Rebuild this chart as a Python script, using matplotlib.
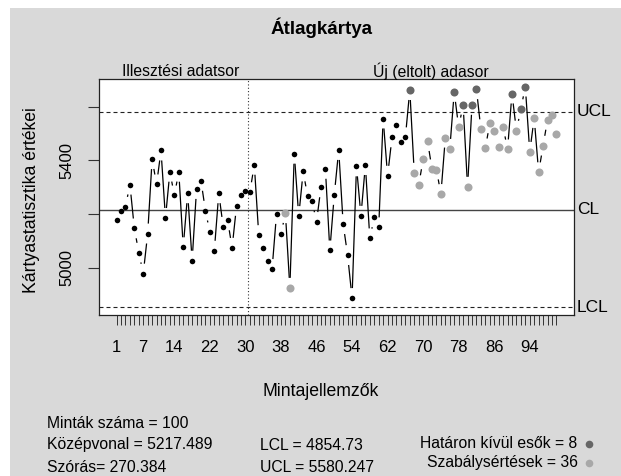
import numpy as np
import matplotlib
matplotlib.use("Agg")
import matplotlib.pyplot as plt
from matplotlib.patches import Rectangle

plt.rcParams['font.family'] = ['Liberation Sans', 'DejaVu Sans']

# sample means
samples = list(range(1, 101))
means = [5179, 5211, 5228, 5310, 5147, 5057, 4979, 5128, 5405, 5311,
         5437, 5186, 5358, 5270, 5358, 5077, 5278, 5027, 5294, 5324,
         5213, 5133, 5064, 5278, 5153, 5177, 5075, 5231, 5273, 5288,
         5282, 5384, 5122, 5075, 5026, 4996, 5201, 5125, 5204, 4926,
         5425, 5193, 5359, 5267, 5250, 5171, 5300, 5369, 5065, 5272,
         5439, 5163, 5048, 4888, 5378, 5194, 5383, 5110, 5188, 5151,
         5556, 5343, 5486, 5533, 5467, 5486, 5662, 5354, 5308, 5404,
         5472, 5367, 5366, 5275, 5485, 5443, 5655, 5523, 5607, 5302,
         5607, 5665, 5516, 5445, 5538, 5511, 5450, 5526, 5441, 5649,
         5511, 5591, 5675, 5432, 5558, 5356, 5455, 5551, 5569, 5500]
beyond = [67, 77, 79, 81, 82, 90, 92, 93]
violating = [39, 40, 68, 69, 70, 71, 72, 73, 74, 75, 76, 78, 80, 83, 84,
             85, 86, 87, 88, 89, 91, 94, 95, 96, 97, 98, 99, 100]
n_fit = 30
center = 5217.489
lcl = 4854.73
ucl = 5580.247
sd = 270.384
n_beyond = 8
n_viol = 36
xtick_labels = [1, 7, 14, 22, 30, 38, 46, 54, 62, 70, 78, 86, 94]
yticks = [5000, 5200, 5400, 5600]
ytick_labels = ['5000', '', '5400', '']

W, H = 621, 476
BG = '#d9d9d9'
DARK = '#666666'
LIGHT = '#a8a8a8'


def fx(px):
    return px / W


def fy(py):
    return 1 - py / H


fig = plt.figure(figsize=(W / 100, H / 100), dpi=100)
fig.patch.set_facecolor('white')
fig.add_artist(Rectangle((fx(10), 0), 1 - fx(10), fy(8), transform=fig.transFigure,
                         facecolor=BG, edgecolor='none', zorder=0))

ax = fig.add_axes([fx(99), fy(315), 475 / W, 236 / H])
ax.set_facecolor('white')
ax.set_xlim(-2.96, 103.96)
ax.set_ylim(4825, 5703)

# control lines
ax.axhline(center, color='#444444', lw=1.0)
ax.axhline(ucl, color='#222222', lw=0.8, linestyle=(0, (3.6, 2.7)))
ax.axhline(lcl, color='#222222', lw=0.8, linestyle=(0, (3.6, 2.7)))
ax.axvline(n_fit + 0.5, color='#333333', lw=0.8, linestyle=(0, (1, 2)))

# connecting line with gaps around the points (like R type="b")
x = np.array(samples, dtype=float)
y = np.array(means, dtype=float)
pts = ax.transData.transform(np.column_stack([x, y]))
inv = ax.transData.inverted()
gap = 10.0
for i in range(len(pts) - 1):
    p, q = pts[i], pts[i + 1]
    d = q - p
    L = np.hypot(*d)
    if L <= 2 * gap + 1:
        continue
    a = p + d / L * gap
    b = q - d / L * gap
    seg = inv.transform(np.array([a, b]))
    ax.plot(seg[:, 0], seg[:, 1], color='black', lw=0.9, solid_capstyle='butt')

# points
cols = []
for s in samples:
    if s in beyond:
        cols.append(DARK)
    elif s in violating:
        cols.append(LIGHT)
    else:
        cols.append('black')
for s, v, c in zip(samples, means, cols):
    ms = 4.0 if c == 'black' else 5.8
    ax.plot(s, v, 'o', ms=ms, color=c, mew=0, zorder=5)

# axes styling
for sp in ax.spines.values():
    sp.set_color('#222222')
    sp.set_linewidth(0.9)
ax.set_xticks(samples)
ax.set_xticklabels([str(s) if s in xtick_labels else '' for s in samples], fontsize=12)
ax.tick_params(axis='x', length=7, width=0.7, pad=11, color='#333333')
ax.set_yticks(yticks)
ax.set_yticklabels(ytick_labels, fontsize=12, rotation=90, va='center')
ax.tick_params(axis='y', length=8, width=0.8, pad=10, color='#333333')

# limit labels on the right
for val, lab in [(ucl, 'UCL'), (center, 'CL'), (lcl, 'LCL')]:
    ax.text(1.006, val, lab, transform=ax.get_yaxis_transform(), fontsize=12.5,
            ha='left', va='center', clip_on=False)

# titles and labels
fig.text(fx(322), fy(28), 'Átlagkártya', fontsize=13.5, fontweight='bold', ha='center', va='center')
fig.text(fx(181), fy(71), 'Illesztési adatsor', fontsize=11.3, ha='center', va='center')
fig.text(fx(431), fy(71), 'Új (eltolt) adasor', fontsize=11.3, ha='center', va='center')
fig.text(fx(32), fy(200), 'Kártyastatisztika értékei', fontsize=12.7, rotation=90, ha='center', va='center')
fig.text(fx(321), fy(392), 'Mintajellemzők', fontsize=12.7, ha='center', va='center')

# summary text
fs = 11.3
fig.text(fx(47), fy(423), 'Minták száma = %d' % len(samples), fontsize=fs, va='center')
fig.text(fx(47), fy(445), 'Középvonal = %s' % center, fontsize=fs, va='center')
fig.text(fx(47), fy(467), 'Szórás= %s' % sd, fontsize=fs, va='center')
fig.text(fx(260), fy(446), 'LCL = %s' % lcl, fontsize=fs, va='center')
fig.text(fx(260), fy(467), 'UCL = %s' % ucl, fontsize=fs, va='center')
fig.text(fx(577), fy(444), 'Határon kívül esők = %d' % n_beyond, fontsize=fs, ha='right', va='center')
fig.text(fx(578), fy(463), 'Szabálysértések = %d' % n_viol, fontsize=fs, ha='right', va='center')
ax.plot([fx(589)], [fy(444)], 'o', ms=5.5, color=DARK, mew=0, transform=fig.transFigure, clip_on=False)
ax.plot([fx(589)], [fy(463)], 'o', ms=5.5, color=LIGHT, mew=0, transform=fig.transFigure, clip_on=False)

fig.savefig('out.png', dpi=100, facecolor=fig.get_facecolor())
